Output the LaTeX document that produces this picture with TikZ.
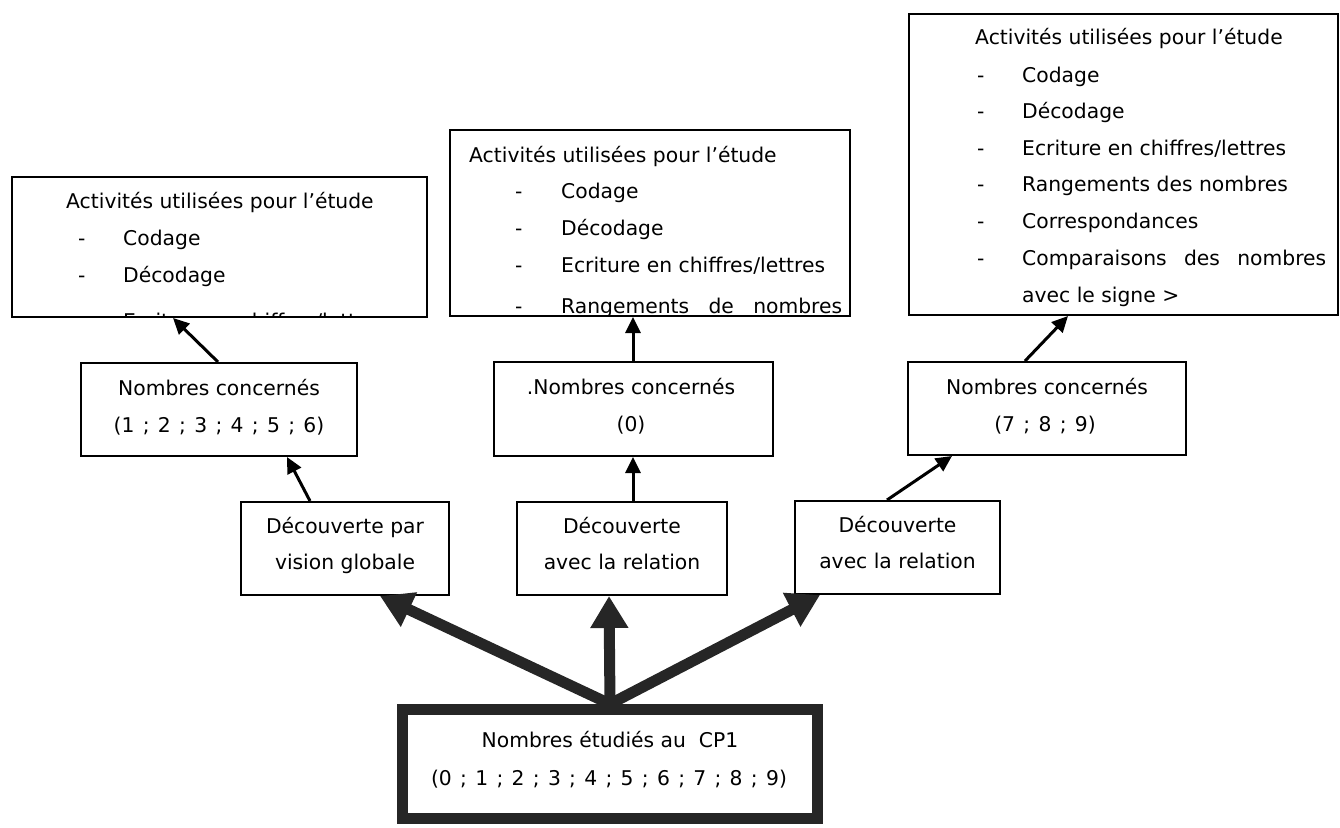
\documentclass[tikz,border=0pt]{standalone}
\usepackage{fontspec}
\setmainfont{DejaVu Sans}
\usetikzlibrary{arrows.meta}
\newcommand\semsep{\hspace{8.3pt};\hspace{8.3pt}}
\begin{document}
\begin{tikzpicture}[x=1pt,y=-1pt,
  box/.style={draw=black, line width=2pt, inner sep=0pt, fill=white},
  txt/.style={inner sep=0pt, font=\fontsize{20.3}{24}\selectfont, text=black},
  thinarr/.style={draw=black, line width=3pt, -{Triangle[length=16pt,width=15pt]}},
  bigarr/.style={draw=black!85, line width=11pt, -{Triangle[length=32pt,width=36pt]}},
]
\useasboundingbox (0,0) rectangle (1340,827);

% boxes
\node[box, minimum width=415pt, minimum height=140pt] (lt) at (219.5,247) {};
\node[box, minimum width=400pt, minimum height=186pt] (mt) at (650,223) {};
\node[box, minimum width=429pt, minimum height=301pt] (rt) at (1123.5,164.5) {};
\node[box, minimum width=276pt, minimum height=93pt] (ln) at (219,409.5) {};
\node[box, minimum width=279pt, minimum height=94pt] (mn) at (633.5,409) {};
\node[box, minimum width=278pt, minimum height=93pt] (rn) at (1047,408.5) {};
\node[box, minimum width=208pt, minimum height=93pt] (ld) at (345,548.5) {};
\node[box, minimum width=210pt, minimum height=93pt] (md) at (622,548.5) {};
\node[box, minimum width=205pt, minimum height=93pt] (rd) at (897.5,547.5) {};
\node[box, draw=black!85, line width=11pt, minimum width=415pt, minimum height=109pt] (bb) at (610,764) {};

% left top box text
\begin{scope}
\clip ([shift={(1pt,1pt)}]lt.south west) rectangle ([shift={(-1pt,-1pt)}]lt.north east);
\node[txt, anchor=base west] (lt0) at (66,208) {Activités utilisées pour l’étude};
\node[txt, anchor=base west] (lt1d) at (78,245) {-};
\node[txt, anchor=base west] (lt1) at (123,245) {Codage};
\node[txt, anchor=base west] (lt2d) at (78,282) {-};
\node[txt, anchor=base west] (lt2) at (123,282) {Décodage};
\node[txt, anchor=base west] (lt3d) at (78,328) {-};
\node[txt, anchor=base west] (lt3) at (123,328) {Ecriture en chiffres/lettres};
\end{scope}

% middle top box text
\begin{scope}
\clip ([shift={(1pt,1pt)}]mt.south west) rectangle ([shift={(-1pt,-1pt)}]mt.north east);
\node[txt, anchor=base west] (mt0) at (469,162) {Activités utilisées pour l’étude};
\node[txt, anchor=base west] (mt1d) at (515,198) {-};
\node[txt, anchor=base west] (mt1) at (561,198) {Codage};
\node[txt, anchor=base west] (mt2d) at (515,235) {-};
\node[txt, anchor=base west] (mt2) at (561,235) {Décodage};
\node[txt, anchor=base west] (mt3d) at (515,272) {-};
\node[txt, anchor=base west] (mt3) at (561,272) {Ecriture en chiffres/lettres};
\node[txt, anchor=base west] (mt4d) at (515,313) {-};
\node[txt, anchor=base west] (mt4) at (561,313) {\makebox[281pt][l]{Rangements\hfill de\hfill nombres}};
\end{scope}

% right top box text
\node[txt, anchor=base west] (rt0) at (975,44) {Activités utilisées pour l’étude};
\node[txt, anchor=base west] (rt1d) at (977,82) {-};
\node[txt, anchor=base west] (rt1) at (1022,82) {Codage};
\node[txt, anchor=base west] (rt2d) at (977,118) {-};
\node[txt, anchor=base west] (rt2) at (1022,118) {Décodage};
\node[txt, anchor=base west] (rt3d) at (977,155) {-};
\node[txt, anchor=base west] (rt3) at (1022,155) {Ecriture en chiffres/lettres};
\node[txt, anchor=base west] (rt4d) at (977,191) {-};
\node[txt, anchor=base west] (rt4) at (1022,191) {Rangements des nombres};
\node[txt, anchor=base west] (rt5d) at (977,228) {-};
\node[txt, anchor=base west] (rt5) at (1022,228) {Correspondances};
\node[txt, anchor=base west] (rt6d) at (977,265) {-};
\node[txt, anchor=base west] (rt6) at (1022,265) {\makebox[304pt][l]{Comparaisons\hfill des\hfill nombres}};
\node[txt, anchor=base west] (rt7) at (1022,302) {avec le signe >};

% Nombres concernés boxes
\node[txt, anchor=base] (ln1) at (219,395) {Nombres concernés};
\node[txt, anchor=base] (ln2) at (219,432) {(1\semsep 2\semsep 3\semsep 4\semsep 5\semsep 6)};
\node[txt, anchor=base] (mn1) at (631,394) {.Nombres concernés};
\node[txt, anchor=base] (mn2) at (631,431) {(0)};
\node[txt, anchor=base] (rn1) at (1047,394) {Nombres concernés};
\node[txt, anchor=base] (rn2) at (1045,431) {(7\semsep 8\semsep 9)};

% Découverte boxes
\node[txt, anchor=base] (ld1) at (345,533) {Découverte par};
\node[txt, anchor=base] (ld2) at (345,569) {vision globale};
\node[txt, anchor=base] (md1) at (622,533) {Découverte};
\node[txt, anchor=base] (md2) at (622,569) {avec la relation};
\node[txt, anchor=base] (rd1) at (897.5,532) {Découverte};
\node[txt, anchor=base] (rd2) at (897.5,568) {avec la relation};

% bottom box
\node[txt, anchor=base] (bb1) at (610,747) {Nombres étudiés au~ CP1};
\node[txt, anchor=base] (bb2) at (609,785) {(0\semsep 1\semsep 2\semsep 3\semsep 4\semsep 5\semsep 6\semsep 7\semsep 8\semsep 9)};

% thin arrows
\draw[thinarr] ([xshift=-35pt]ld.north) -- ([xshift=68pt]ln.south);
\draw[thinarr] ([xshift=-1pt]ln.north) -- ([xshift=-46.5pt]lt.south);
\draw[thinarr] ([xshift=11pt]md.north) -- ([xshift=-0.5pt]mn.south);
\draw[thinarr] ([xshift=-0.5pt]mn.north) -- ([xshift=-17pt]mt.south);
\draw[thinarr] ([xshift=-10.5pt]rd.north) -- ([xshift=-95pt]rn.south);
\draw[thinarr] ([xshift=-22pt]rn.north) -- ([xshift=-55.5pt]rt.south);

% thick arrows
\draw[bigarr] (bb.north) -- ([xshift=35pt]ld.south);
\draw[bigarr] (bb.north) -- ([xshift=-13pt]md.south);
\draw[bigarr] (bb.north) -- ([xshift=-77.5pt]rd.south);
\end{tikzpicture}
\end{document}
